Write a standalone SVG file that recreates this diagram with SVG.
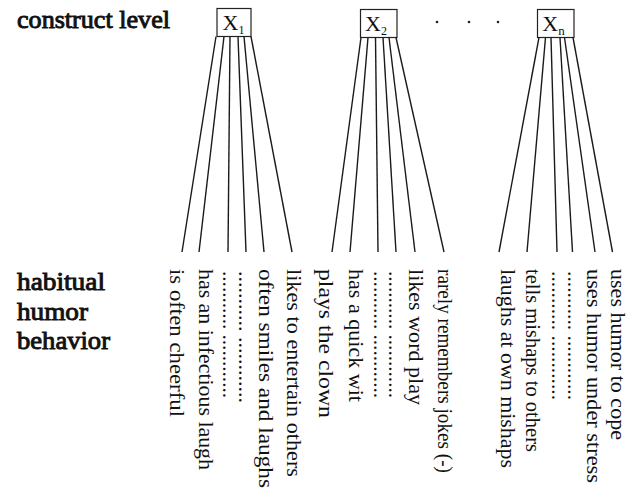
<svg xmlns="http://www.w3.org/2000/svg" width="632" height="504" viewBox="0 0 632 504">
<style>
.lab{font-family:"Liberation Serif","Times New Roman",serif;font-size:24.5px;fill:#111;stroke:#111;stroke-width:0.9}
.box{fill:#fff;stroke:#222;stroke-width:1.2}
.bx{font-family:"Liberation Serif","Times New Roman",serif;font-size:22px;fill:#111}
.sub{font-size:12px}
.ind{font-family:"Liberation Serif","Times New Roman",serif;font-size:22px;fill:#111}
.con line{stroke:#1a1a1a;stroke-width:1.4}
</style>
<rect width="632" height="504" fill="#fff"/>
<g id="label-construct"><text class="lab" x="17" y="28" textLength="153" lengthAdjust="spacingAndGlyphs">construct level</text></g>
<g id="label-behavior">
<text class="lab" x="17" y="290" textLength="88" lengthAdjust="spacingAndGlyphs">habitual</text>
<text class="lab" x="17" y="320" textLength="71" lengthAdjust="spacingAndGlyphs">humor</text>
<text class="lab" x="17" y="349" textLength="93" lengthAdjust="spacingAndGlyphs">behavior</text>
</g>
<g id="X1"><rect class="box" x="217" y="8.5" width="34" height="28"/><text class="bx" x="222.5" y="30">X<tspan class="sub" dy="4">1</tspan></text></g>
<g id="X2"><rect class="box" x="360.5" y="9.5" width="36.5" height="28"/><text class="bx" x="365" y="30.5">X<tspan class="sub" dy="4">2</tspan></text></g>
<g id="Xn"><rect class="box" x="537.5" y="9.5" width="36.5" height="28"/><text class="bx" x="542.3" y="30.5">X<tspan class="sub" dy="4.5" style="font-size:13px">n</tspan></text></g>
<g id="ellipsis" fill="#222"><circle cx="437" cy="22" r="1.3"/><circle cx="469" cy="22" r="1.3"/><circle cx="498" cy="22" r="1.3"/></g>
<g id="connectors" class="con">
<line x1="216" y1="36.5" x2="182" y2="252"/>
<line x1="224" y1="36.5" x2="199" y2="252"/>
<line x1="230" y1="36.5" x2="228" y2="252"/>
<line x1="238" y1="36.5" x2="246" y2="252"/>
<line x1="244" y1="36.5" x2="264" y2="252"/>
<line x1="251" y1="36.5" x2="292" y2="252"/>
<line x1="361" y1="37.5" x2="332" y2="252"/>
<line x1="368" y1="37.5" x2="350" y2="252"/>
<line x1="375.5" y1="37.5" x2="378" y2="252"/>
<line x1="383" y1="37.5" x2="396" y2="252"/>
<line x1="389" y1="37.5" x2="415" y2="252"/>
<line x1="396" y1="37.5" x2="444" y2="252"/>
<line x1="539" y1="37.5" x2="499" y2="252"/>
<line x1="545.5" y1="37.5" x2="527" y2="252"/>
<line x1="551" y1="37.5" x2="557" y2="252"/>
<line x1="560" y1="37.5" x2="572.5" y2="252"/>
<line x1="564.5" y1="37.5" x2="595" y2="252"/>
<line x1="573" y1="37.5" x2="612.5" y2="252"/>
</g>
<g id="ind-1-1"><text class="ind" transform="translate(170,269) rotate(90)" textLength="148" lengthAdjust="spacingAndGlyphs">is often cheerful</text></g>
<g id="ind-1-2"><text class="ind" transform="translate(199,269) rotate(90)" textLength="201" lengthAdjust="spacingAndGlyphs">has an infectious laugh</text></g>
<g id="ind-1-3"><text class="ind" transform="translate(223,271) rotate(90)" textLength="127" lengthAdjust="spacingAndGlyphs">........... ............</text></g>
<g id="ind-1-4"><text class="ind" transform="translate(239,271) rotate(90)" textLength="132" lengthAdjust="spacingAndGlyphs">........... ............</text></g>
<g id="ind-1-5"><text class="ind" transform="translate(259,269) rotate(90)" textLength="219" lengthAdjust="spacingAndGlyphs">often smiles and laughs</text></g>
<g id="ind-1-6"><text class="ind" transform="translate(287,269) rotate(90)" textLength="208" lengthAdjust="spacingAndGlyphs">likes to entertain others</text></g>
<g id="ind-2-1"><text class="ind" transform="translate(319,269) rotate(90)" textLength="149" lengthAdjust="spacingAndGlyphs">plays the clown</text></g>
<g id="ind-2-2"><text class="ind" transform="translate(349,269) rotate(90)" textLength="133" lengthAdjust="spacingAndGlyphs">has a quick wit</text></g>
<g id="ind-2-3"><text class="ind" transform="translate(374,271) rotate(90)" textLength="127" lengthAdjust="spacingAndGlyphs">........... ............</text></g>
<g id="ind-2-4"><text class="ind" transform="translate(389,271) rotate(90)" textLength="127" lengthAdjust="spacingAndGlyphs">........... ............</text></g>
<g id="ind-2-5"><text class="ind" transform="translate(409,269) rotate(90)" textLength="136" lengthAdjust="spacingAndGlyphs">likes word play</text></g>
<g id="ind-2-6"><text class="ind" transform="translate(438,269) rotate(90)" textLength="204" lengthAdjust="spacingAndGlyphs">rarely remembers jokes (-)</text></g>
<g id="ind-n-1"><text class="ind" transform="translate(501,269) rotate(90)" textLength="199" lengthAdjust="spacingAndGlyphs">laughs at own mishaps</text></g>
<g id="ind-n-2"><text class="ind" transform="translate(526,269) rotate(90)" textLength="183" lengthAdjust="spacingAndGlyphs">tells mishaps to others</text></g>
<g id="ind-n-3"><text class="ind" transform="translate(552,271) rotate(90)" textLength="129" lengthAdjust="spacingAndGlyphs">........... ............</text></g>
<g id="ind-n-4"><text class="ind" transform="translate(568,271) rotate(90)" textLength="129" lengthAdjust="spacingAndGlyphs">........... ............</text></g>
<g id="ind-n-5"><text class="ind" transform="translate(587,269) rotate(90)" textLength="214" lengthAdjust="spacingAndGlyphs">uses humor under stress</text></g>
<g id="ind-n-6"><text class="ind" transform="translate(611,269) rotate(90)" textLength="171" lengthAdjust="spacingAndGlyphs">uses humor to cope</text></g>
</svg>
